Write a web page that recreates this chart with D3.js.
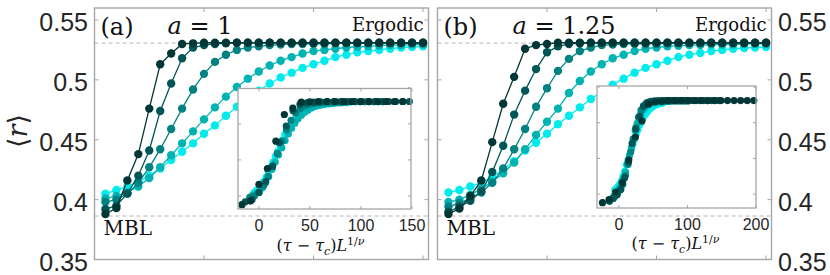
<!DOCTYPE html>
<html>
<head>
<meta charset="utf-8">
<script src="https://cdn.jsdelivr.net/npm/d3@7"></script>
<style>
  body { margin: 0; background: #fff; }
  text { font-family: "Liberation Sans", Arial, sans-serif; }
  .serif { font-family: "DejaVu Serif", "Liberation Serif", serif; }
</style>
</head>
<body>
<div id="chart"></div>
<script>
// disorder / time parameter of the main panels
const tau = [0.1,0.2,0.3,0.4,0.5,0.6,0.7,0.8,0.9,1.0,1.1,1.2,1.3,1.4,1.5,
             1.6,1.7,1.8,1.9,2.0,2.1,2.2,2.3,2.4,2.5,2.6,2.7,2.8,2.9,3.0];

// panel (a), a = 1 : largest L first
const rA1 = [0.388,0.393,0.416,0.438,0.476,0.513,0.522,0.530,0.5305,0.531,0.531,0.531,0.531,0.531,0.531,
             0.531,0.531,0.531,0.531,0.531,0.531,0.531,0.531,0.531,0.531,0.531,0.531,0.531,0.531,0.531];
const rA2 = [0.392,0.395,0.405,0.420,0.441,0.474,0.497,0.518,0.527,0.529,0.530,0.5305,0.531,0.531,0.531,
             0.531,0.531,0.531,0.531,0.531,0.531,0.531,0.531,0.531,0.531,0.531,0.531,0.531,0.531,0.531];
const rA3 = [0.398,0.400,0.405,0.414,0.427,0.442,0.459,0.476,0.492,0.505,0.515,0.521,0.525,0.527,0.528,
             0.529,0.5295,0.530,0.530,0.530,0.530,0.5305,0.5305,0.5305,0.5305,0.5305,0.5305,0.5305,0.5305,0.5305];
const rA4 = [0.401,0.403,0.406,0.411,0.418,0.427,0.437,0.447,0.457,0.467,0.477,0.486,0.494,0.501,0.507,
             0.512,0.516,0.519,0.522,0.524,0.525,0.526,0.527,0.5275,0.528,0.5285,0.529,0.529,0.5295,0.5295];
const rA5 = [0.405,0.408,0.411,0.415,0.420,0.426,0.433,0.440,0.447,0.455,0.462,0.470,0.4775,0.485,0.491,
             0.497,0.502,0.506,0.510,0.513,0.516,0.519,0.521,0.523,0.524,0.525,0.526,0.527,0.5275,0.528];

// panel (b), a = 1.25
const rB1 = [0.388,0.3925,0.403,0.416,0.448,0.480,0.5025,0.526,0.529,0.530,0.531,0.531,0.531,0.531,0.531,
             0.531,0.531,0.531,0.531,0.531,0.531,0.531,0.531,0.531,0.531,0.531,0.531,0.531,0.531,0.531];
const rB2 = [0.390,0.394,0.399,0.407,0.423,0.445,0.471,0.491,0.509,0.523,0.528,0.530,0.5305,0.531,0.531,
             0.531,0.531,0.531,0.531,0.531,0.531,0.531,0.531,0.531,0.531,0.531,0.531,0.531,0.531,0.531];
const rB3 = [0.394,0.397,0.401,0.406,0.414,0.426,0.442,0.459,0.4775,0.493,0.5075,0.5175,0.524,0.527,0.529,
             0.5295,0.530,0.530,0.530,0.530,0.5305,0.5305,0.5305,0.5305,0.5305,0.5305,0.5305,0.5305,0.5305,0.5305];
const rB4 = [0.398,0.400,0.404,0.409,0.415,0.422,0.431,0.442,0.454,0.465,0.476,0.489,0.499,0.507,0.513,
             0.518,0.521,0.524,0.526,0.527,0.528,0.5285,0.529,0.529,0.5295,0.5295,0.5295,0.530,0.530,0.530];
const rB5 = [0.406,0.408,0.411,0.414,0.419,0.425,0.432,0.441,0.4475,0.455,0.463,0.470,0.477,0.484,0.490,
             0.496,0.501,0.506,0.510,0.513,0.516,0.519,0.521,0.5225,0.524,0.525,0.526,0.5265,0.527,0.5275];

// finite-size collapse: x = (tau - tauC) * L^(1/nu)
const tauCA = 0.3;
const scaleA = [83, 67, 45, 32, 23];
const tauCB = 0.35;
const scaleB = [96, 55, 38, 28, 24];

const shades = ["#003636", "#005656", "#008282", "#00b3b3", "#00ecec"];

const yTicks = [0.35, 0.4, 0.45, 0.5, 0.55];
const yTickLabels = ["0.35", "0.4", "0.45", "0.5", "0.55"];
const xTicks = [0, 1, 2, 3];
const insetYTicks = [0.4, 0.45, 0.5, 0.55];
const insetXTicksA = [0, 50, 100, 150];
const insetXTicksB = [0, 100, 200];
const ergodicR = 0.5307;
const mblR = 0.3863;

const width = 830, height = 275;
const axisGrey = "#a6a6a6", labelGrey = "#262626";

const svg = d3.select("#chart").append("svg")
  .attr("width", width)
  .attr("height", height);

// rotated y label
svg.append("text")
  .attr("class", "serif")
  .attr("transform", "translate(27,131) rotate(-90)")
  .attr("text-anchor", "middle")
  .attr("font-size", 27)
  .attr("fill", labelGrey)
  .html('\u27E8<tspan font-style="italic">r</tspan>\u27E9');

function drawPanel(cfg) {
  const x = d3.scaleLinear().domain([0, 3.05]).range([cfg.left, cfg.right]);
  const y = d3.scaleLinear().domain([0.35, 0.56]).range([259.5, 8]);
  const g = svg.append("g");

  // reference levels
  [ergodicR, mblR].forEach(v => {
    g.append("line")
      .attr("x1", cfg.left).attr("x2", cfg.right)
      .attr("y1", y(v)).attr("y2", y(v))
      .attr("stroke", "#b5b5b5").attr("stroke-width", 1)
      .attr("stroke-dasharray", "4,3");
  });

  const line = d3.line().x((d, i) => x(tau[i])).y(d => y(d));
  const order = [4, 3, 2, 1, 0];
  order.forEach(k => {
    const s = cfg.series[k];
    g.append("path")
      .attr("d", line(s))
      .attr("fill", "none")
      .attr("stroke", shades[k])
      .attr("stroke-width", 1.3);
    g.selectAll(null).data(s).enter().append("circle")
      .attr("cx", (d, i) => x(tau[i]))
      .attr("cy", d => y(d))
      .attr("r", 4.2)
      .attr("fill", shades[k]);
  });

  // box and ticks
  g.append("rect")
    .attr("x", cfg.left).attr("y", 8)
    .attr("width", cfg.right - cfg.left).attr("height", 251.5)
    .attr("fill", "none").attr("stroke", axisGrey).attr("stroke-width", 1.4);
  yTicks.forEach(v => {
    g.append("line").attr("x1", cfg.left).attr("x2", cfg.left + 4)
      .attr("y1", y(v)).attr("y2", y(v)).attr("stroke", axisGrey);
    g.append("line").attr("x1", cfg.right).attr("x2", cfg.right - 4)
      .attr("y1", y(v)).attr("y2", y(v)).attr("stroke", axisGrey);
  });
  xTicks.forEach(v => {
    g.append("line").attr("x1", x(v)).attr("x2", x(v))
      .attr("y1", 259.5).attr("y2", 255.5).attr("stroke", axisGrey);
    g.append("line").attr("x1", x(v)).attr("x2", x(v))
      .attr("y1", 8).attr("y2", 12).attr("stroke", axisGrey);
  });

  // tick labels on the outer side
  yTicks.forEach((v, i) => {
    g.append("text")
      .attr("x", cfg.labelX)
      .attr("y", y(v) + 11)
      .attr("text-anchor", cfg.labelAnchor)
      .attr("font-size", 25)
      .attr("fill", labelGrey)
      .text(yTickLabels[i]);
  });

  // annotations
  g.append("text").attr("class", "serif")
    .attr("x", cfg.left + 6).attr("y", 35)
    .attr("font-size", 24).attr("fill", "#111")
    .text(cfg.tag);
  g.append("text").attr("class", "serif")
    .attr("x", cfg.left + cfg.aOffset).attr("y", 34)
    .attr("font-size", 24).attr("fill", "#111")
    .html('<tspan font-style="italic">a</tspan> = ' + cfg.aValue);
  g.append("text").attr("class", "serif")
    .attr("x", cfg.right - 5).attr("y", 31)
    .attr("text-anchor", "end")
    .attr("font-size", 18).attr("fill", "#111")
    .text("Ergodic");
  g.append("text").attr("class", "serif")
    .attr("x", cfg.left + 9).attr("y", 235)
    .attr("font-size", 20).attr("fill", "#111")
    .text("MBL");

  // inset: scaling collapse
  const ins = cfg.inset;
  const ix = d3.scaleLinear().domain(ins.xDomain).range([ins.left, ins.right]);
  const iy = d3.scaleLinear().domain(ins.yDomain).range([ins.bottom, ins.top]);
  const ig = svg.append("g");
  ig.append("rect")
    .attr("x", ins.left).attr("y", ins.top)
    .attr("width", ins.right - ins.left).attr("height", ins.bottom - ins.top)
    .attr("fill", "#fff");
  order.forEach(k => {
    const pts = cfg.series[k]
      .map((d, i) => ({ sx: (tau[i] - cfg.tauC) * cfg.scale[k], r: d }))
      .filter(p => p.sx >= ins.xDomain[0] && p.sx <= ins.xDomain[1]);
    ig.selectAll(null).data(pts).enter().append("circle")
      .attr("cx", d => ix(d.sx))
      .attr("cy", d => iy(d.r))
      .attr("r", 3.6)
      .attr("fill", shades[k]);
  });
  ig.append("rect")
    .attr("x", ins.left).attr("y", ins.top)
    .attr("width", ins.right - ins.left).attr("height", ins.bottom - ins.top)
    .attr("fill", "none").attr("stroke", axisGrey).attr("stroke-width", 1.3);
  insetYTicks.forEach(v => {
    ig.append("line").attr("x1", ins.left).attr("x2", ins.left + 3)
      .attr("y1", iy(v)).attr("y2", iy(v)).attr("stroke", axisGrey);
    ig.append("line").attr("x1", ins.right).attr("x2", ins.right - 3)
      .attr("y1", iy(v)).attr("y2", iy(v)).attr("stroke", axisGrey);
  });
  ins.xTicks.forEach(v => {
    ig.append("line").attr("x1", ix(v)).attr("x2", ix(v))
      .attr("y1", ins.bottom).attr("y2", ins.bottom - 3).attr("stroke", axisGrey);
    ig.append("line").attr("x1", ix(v)).attr("x2", ix(v))
      .attr("y1", ins.top).attr("y2", ins.top + 3).attr("stroke", axisGrey);
    ig.append("text")
      .attr("x", ix(v)).attr("y", ins.tickBase)
      .attr("text-anchor", "middle")
      .attr("font-size", 16).attr("fill", labelGrey)
      .text(v);
  });
  ig.append("text").attr("class", "serif")
    .attr("x", (ins.left + ins.right) / 2 + ins.labelShift).attr("y", ins.labelBase)
    .attr("text-anchor", "middle")
    .attr("font-size", 16).attr("fill", "#111")
    .html('(<tspan font-style="italic">\u03C4</tspan> \u2212 <tspan font-style="italic">\u03C4</tspan>' +
          '<tspan font-style="italic" font-size="11" dy="4">c</tspan><tspan dy="-4">)</tspan>' +
          '<tspan font-style="italic">L</tspan>' +
          '<tspan font-size="11" dy="-6">1/</tspan><tspan font-size="11" font-style="italic">\u03BD</tspan>');
}

drawPanel({
  left: 94.5, right: 428.5, series: [rA1, rA2, rA3, rA4, rA5],
  labelX: 88, labelAnchor: "end", tag: "(a)", aOffset: 73, aValue: "1",
  tauC: tauCA, scale: scaleA,
  inset: { left: 238, right: 411, top: 88.5, bottom: 209,
           xDomain: [-20.5, 149], yDomain: [0.382, 0.549],
           xTicks: insetXTicksA, labelShift: -4, tickBase: 231, labelBase: 251 }
});

drawPanel({
  left: 437.5, right: 771.5, series: [rB1, rB2, rB3, rB4, rB5],
  labelX: 778, labelAnchor: "start", tag: "(b)", aOffset: 75, aValue: "1.25",
  tauC: tauCB, scale: scaleB,
  inset: { left: 597, right: 756, top: 86, bottom: 208,
           xDomain: [-32, 200], yDomain: [0.3806, 0.5514],
           xTicks: insetXTicksB, labelShift: -1, tickBase: 230, labelBase: 249 }
});
</script>
</body>
</html>
